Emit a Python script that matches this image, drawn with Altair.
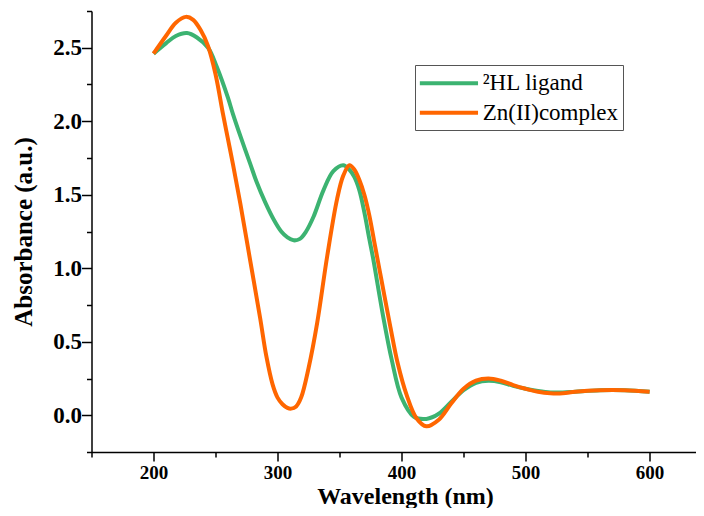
import altair as alt
import pandas as pd

# ---- data ----
series_names = ["²HL ligand", "Zn(II)complex"]
series_colors = ["#3cb371", "#ff6600"]

wl_ligand = [200, 210, 218, 227, 235, 244, 251, 260, 264, 270, 278, 283, 290, 297, 303, 308, 313,
             318, 323, 329, 337, 345, 353, 358, 362, 366, 370, 374, 377, 385, 392, 400, 410, 420, 430,
             440, 450, 460, 470, 480, 490, 500, 510, 520, 530, 540, 560, 580, 600]
abs_ligand = [2.46, 2.53, 2.58, 2.60, 2.57, 2.50, 2.37, 2.16, 2.05, 1.90, 1.71, 1.59, 1.45, 1.33, 1.25, 1.21, 1.19,
              1.20, 1.25, 1.35, 1.53, 1.66, 1.70, 1.67, 1.62, 1.53, 1.38, 1.20, 1.07, 0.68, 0.38, 0.12, -0.01, -0.025, 0.01,
              0.09, 0.17, 0.22, 0.235, 0.225, 0.20, 0.18, 0.165, 0.155, 0.155, 0.16, 0.17, 0.17, 0.16]

wl_complex = [200, 210, 218, 226, 232, 238, 244, 250, 256, 260, 264, 270, 278, 286, 291, 296, 300, 304,
              308, 311, 315, 319, 325, 332, 340, 348, 353, 358, 362, 366, 370, 374, 378, 382, 386, 391, 397, 404, 412,
              420, 430, 440, 450, 460, 470, 480, 490, 500, 510, 520, 530, 540, 560, 580, 600]
abs_complex = [2.46, 2.58, 2.67, 2.71, 2.69, 2.62, 2.51, 2.32, 2.05, 1.88, 1.71, 1.44, 1.05, 0.66, 0.40, 0.21, 0.12, 0.075,
               0.05, 0.045, 0.06, 0.12, 0.32, 0.63, 1.08, 1.47, 1.63, 1.70, 1.67, 1.60, 1.50, 1.36, 1.18, 1.00, 0.82, 0.60, 0.35, 0.14, -0.02,
               -0.075, -0.03, 0.08, 0.18, 0.235, 0.25, 0.235, 0.205, 0.18, 0.16, 0.15, 0.15, 0.16, 0.17, 0.17, 0.16]

x_ticks = [150, 200, 250, 300, 350, 400, 450, 500, 550, 600]
y_ticks = [-0.25, 0.0, 0.25, 0.5, 0.75, 1.0, 1.25, 1.5, 1.75, 2.0, 2.25, 2.5, 2.75]
x_domain = [150, 637]
y_domain = [-0.25, 2.75]

df_l = pd.DataFrame({"wl": wl_ligand, "abs": abs_ligand, "series": series_names[0]})
df_c = pd.DataFrame({"wl": wl_complex, "abs": abs_complex, "series": series_names[1]})

FONT = "Liberation Serif"

x_axis = alt.Axis(
    values=x_ticks, title="Wavelength (nm)", format="d",
    titleFont=FONT, titleFontSize=24, titleFontWeight="bold", titleColor="black",
    titleX=313.5, titleY=51.5, titleAlign="center", titleBaseline="alphabetic",
    labelFont=FONT, labelFontSize=19, labelFontWeight="bold", labelColor="black",
    labelBaseline="alphabetic", labelPadding=17.5, labelOverlap=False, labelFlush=False,
    labelExpr="datum.value % 100 == 0 ? datum.label : ''",
    tickSize={"condition": {"test": "datum.value % 100 == 0", "value": 9}, "value": 5},
    tickColor="black", tickWidth=1.5, domainColor="black", domainWidth=1.5, grid=False,
)
y_axis = alt.Axis(
    values=y_ticks, title="Absorbance (a.u.)", format=".1f",
    titleFont=FONT, titleFontSize=25, titleFontWeight="bold", titleColor="black",
    titleX=-60, titleY=220.5, titleAngle=270, titleAlign="center", titleBaseline="alphabetic",
    labelFont=FONT, labelFontSize=23, labelFontWeight="bold", labelColor="black",
    labelPadding=0, labelOverlap=False, labelFlush=False,
    labelExpr="abs(datum.value * 2 - round(datum.value * 2)) < 0.001 ? datum.label : ''",
    tickSize={"condition": {"test": "abs(datum.value * 2 - round(datum.value * 2)) < 0.001", "value": 10}, "value": 5},
    tickColor="black", tickWidth=1.5, domainColor="black", domainWidth=1.5, grid=False,
)
legend = alt.Legend(
    title=None, orient="none", direction="vertical", legendX=323.5, legendY=54,
    symbolType="M-1.17,0L3.89,0", symbolSize=529, symbolStrokeWidth=4,
    labelFont=FONT, labelFontSize=23, labelColor="black", labelLimit=400,
    strokeColor="#555555", fillColor="white", padding=4.8, rowPadding=3.4, labelOffset=35.9,
)

def line(df):
    return alt.Chart(df).mark_line(strokeWidth=4, interpolate="catmull-rom").encode(
        x=alt.X("wl:Q", scale=alt.Scale(domain=x_domain, nice=False, zero=False), axis=x_axis),
        y=alt.Y("abs:Q", scale=alt.Scale(domain=y_domain, nice=False, zero=False), axis=y_axis),
        color=alt.Color("series:N", scale=alt.Scale(domain=series_names, range=series_colors), legend=legend),
    )

chart = alt.layer(line(df_l), line(df_c)).properties(
    width=604, height=441,
    padding={"left": 83.5, "top": 3, "right": 0, "bottom": 56},
    autosize=alt.AutoSizeParams(type="none"),
    background="white",
).configure_view(stroke=None)

chart.save("out.html", embed_options={"renderer": "svg", "actions": False})
